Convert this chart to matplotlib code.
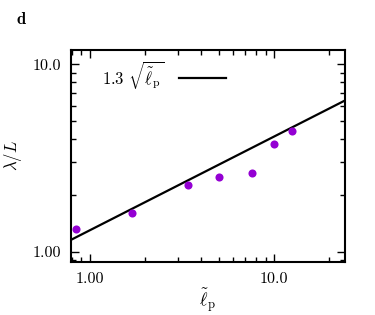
import numpy as np
import matplotlib
matplotlib.use('Agg')
import matplotlib.pyplot as plt
from matplotlib.ticker import FixedLocator, FixedFormatter, LogLocator, NullFormatter

plt.rcParams['font.family'] = 'serif'
plt.rcParams['font.serif'] = ['cmr10']
plt.rcParams['mathtext.fontset'] = 'cm'
plt.rcParams['axes.formatter.use_mathtext'] = True

# data
lp = [0.847, 1.69, 3.40, 5.0, 7.57, 10.0, 12.6]
lam_L = [1.32, 1.60, 2.26, 2.51, 2.64, 3.77, 4.41]
prefactor = 1.3
x_ticks = [1.0, 10.0]
x_ticklabels = ['1.00', '10.0']
y_ticks = [1.0, 10.0]
y_ticklabels = ['1.00', '10.0']

fig = plt.figure(figsize=(3.75, 3.15), dpi=100)
ax = fig.add_axes([0.189, 0.168, 0.731, 0.673])

xs = np.logspace(np.log10(0.79), np.log10(24.5), 50)
ax.plot(xs, prefactor * np.sqrt(xs), color='black', lw=1.6,
        label=r'$1.3\ \sqrt{\tilde{\ell}_\mathrm{p}}$')
ax.scatter(lp, lam_L, s=34, color='#9400d3', zorder=3, linewidths=0)

ax.set_xscale('log')
ax.set_yscale('log')
ax.set_xlim(0.79, 24.3)
ax.set_ylim(0.88, 11.9)

ax.xaxis.set_major_locator(FixedLocator(x_ticks))
ax.xaxis.set_major_formatter(FixedFormatter(x_ticklabels))
ax.yaxis.set_major_locator(FixedLocator(y_ticks))
ax.yaxis.set_major_formatter(FixedFormatter(y_ticklabels))
ax.xaxis.set_minor_locator(LogLocator(base=10, subs=np.arange(2, 10)))
ax.yaxis.set_minor_locator(LogLocator(base=10, subs=np.arange(2, 10)))
ax.xaxis.set_minor_formatter(NullFormatter())
ax.yaxis.set_minor_formatter(NullFormatter())

ax.tick_params(which='both', direction='in', top=True, right=True, labelsize=11.5, width=1)
ax.tick_params(which='major', length=6, pad=7)
ax.tick_params(which='minor', length=3.5)
for s in ax.spines.values():
    s.set_linewidth(1.5)

ax.set_xlabel(r'$\tilde{\ell}_\mathrm{p}$', fontsize=13, labelpad=1)
ax.set_ylabel(r'$\lambda/L$', fontsize=12, labelpad=6)

ax.legend(loc='upper left', frameon=False, markerfirst=False, fontsize=12,
          handlelength=2.8, handletextpad=0.9, bbox_to_anchor=(0.06, 1.03))

fig.text(0.045, 0.925, 'd', fontsize=12, fontweight='bold', family='cmb10')

fig.savefig('out.png', dpi=100)
